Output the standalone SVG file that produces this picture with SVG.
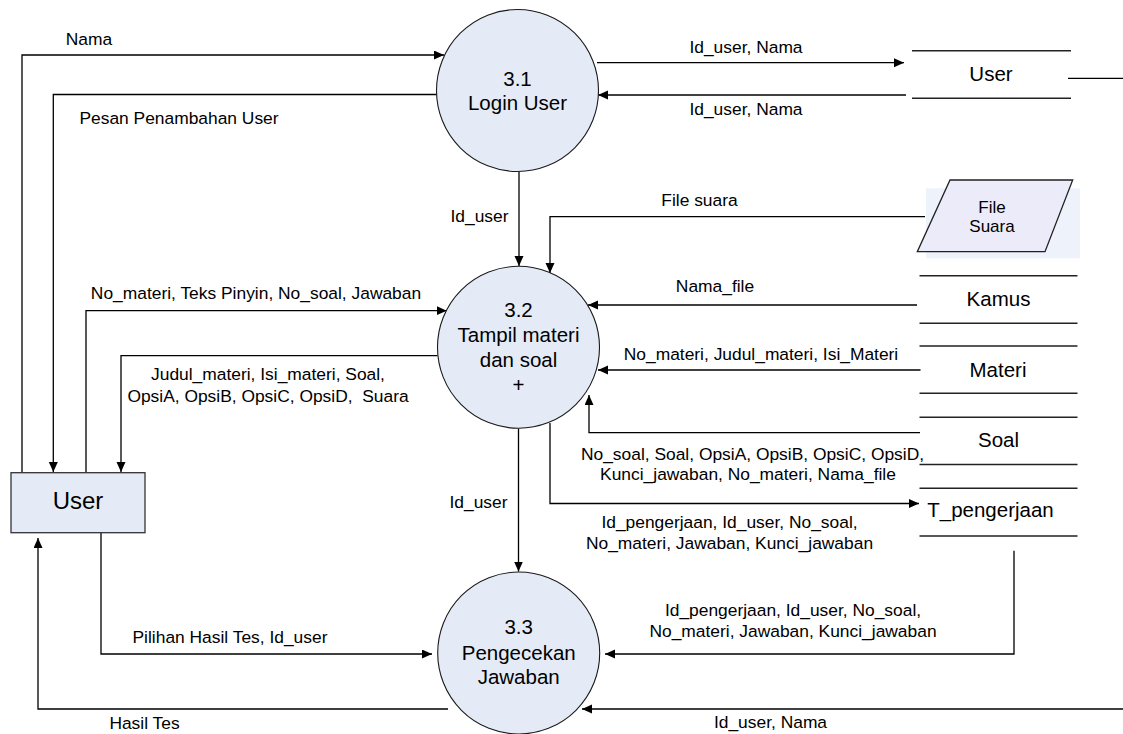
<svg xmlns="http://www.w3.org/2000/svg" width="1123" height="734" viewBox="0 0 1123 734">
<style>
  text { font-family: "Liberation Sans", Arial, sans-serif; fill: #000; }
  .lbl { font-size: 17.4px; text-anchor: middle; white-space: pre; }
  .proc { fill: #E5EBF6; stroke: #1a1a1a; stroke-width: 1.1; }
  .ptxt { font-size: 20.5px; text-anchor: middle; }
  .store { stroke: #222; stroke-width: 1.5; fill: none; }
  .stxt { font-size: 20.5px; text-anchor: middle; }
  .flow { fill: none; stroke: #000; stroke-width: 1.3; marker-end: url(#arr); }
  .plain { fill: none; stroke: #000; stroke-width: 1.3; }
</style>
<defs>
  <marker id="arr" markerUnits="userSpaceOnUse" markerWidth="11" markerHeight="10" refX="10" refY="4.5" orient="auto">
    <path d="M0,0 L10,4.5 L0,9 z" fill="#000"/>
  </marker>
</defs>

<g id="connectors">
  <path class="flow" d="M22,472.7 V55 H444"/>
  <path class="flow" d="M437,94.5 H53.3 V472"/>
  <path class="flow" d="M597,62.7 H904"/>
  <path class="flow" d="M906,95 H598"/>
  <path class="plain" d="M1068,78.3 H1123"/>
  <path class="flow" d="M519,172 V266"/>
  <path class="flow" d="M925,216.7 H550 V273"/>
  <path class="flow" d="M917,305 H588"/>
  <path class="flow" d="M920.5,370 H598"/>
  <path class="flow" d="M920,432.7 H589 V395"/>
  <path class="flow" d="M550,423 V503.5 H919"/>
  <path class="flow" d="M86,472.7 V310.7 H446.7"/>
  <path class="flow" d="M437.5,355.7 H121 V472"/>
  <path class="flow" d="M518.5,428.5 V571.5"/>
  <path class="flow" d="M101,532.7 V654 H432"/>
  <path class="flow" d="M448,709 H38 V538"/>
  <path class="flow" d="M1014,550.7 V654 H605"/>
  <path class="flow" d="M1123,709 H582"/>

  <text class="lbl" x="89" y="45">Nama</text>
  <text class="lbl" x="179" y="124">Pesan Penambahan User</text>
  <text class="lbl" x="746" y="53">Id_user, Nama</text>
  <text class="lbl" x="746" y="115">Id_user, Nama</text>
  <text class="lbl" x="699.5" y="206">File suara</text>
  <text class="lbl" x="479.5" y="222">Id_user</text>
  <text class="lbl" x="715" y="292">Nama_file</text>
  <text class="lbl" x="761" y="360">No_materi, Judul_materi, Isi_Materi</text>
  <text class="lbl" x="752.5" y="460">No_soal, Soal, OpsiA, OpsiB, OpsiC, OpsiD,</text>
  <text class="lbl" x="748" y="480">Kunci_jawaban, No_materi, Nama_file</text>
  <text class="lbl" x="729.5" y="528">Id_pengerjaan, Id_user, No_soal,</text>
  <text class="lbl" x="729.5" y="549">No_materi, Jawaban, Kunci_jawaban</text>
  <text class="lbl" x="478.5" y="508">Id_user</text>
  <text class="lbl" x="793" y="616">Id_pengerjaan, Id_user, No_soal,</text>
  <text class="lbl" x="793" y="637">No_materi, Jawaban, Kunci_jawaban</text>
  <text class="lbl" x="230" y="643">Pilihan Hasil Tes, Id_user</text>
  <text class="lbl" x="144.5" y="729">Hasil Tes</text>
  <text class="lbl" x="770.5" y="728">Id_user, Nama</text>
  <text class="lbl" x="256" y="299">No_materi, Teks Pinyin, No_soal, Jawaban</text>
  <text class="lbl" x="268" y="380">Judul_materi, Isi_materi, Soal,</text>
  <text class="lbl" x="268" y="402">OpsiA, OpsiB, OpsiC, OpsiD,  Suara</text>
</g>

<g id="p31">
  <circle class="proc" cx="517.5" cy="90.5" r="81"/>
  <text class="ptxt" x="517.5" y="86">3.1</text>
  <text class="ptxt" x="517.5" y="110">Login User</text>
</g>

<g id="p32">
  <circle class="proc" cx="518.5" cy="347.3" r="81"/>
  <text class="ptxt" x="518.5" y="317">3.2</text>
  <text class="ptxt" x="518.5" y="342">Tampil materi</text>
  <text class="ptxt" x="518.5" y="367">dan soal</text>
  <text class="ptxt" x="518.5" y="392">+</text>
</g>

<g id="p33">
  <circle class="proc" cx="518.7" cy="653" r="81"/>
  <text class="ptxt" x="518.7" y="634">3.3</text>
  <text class="ptxt" x="518.7" y="660">Pengecekan</text>
  <text class="ptxt" x="518.7" y="684">Jawaban</text>
</g>

<g id="entity-user">
  <rect x="11" y="472.7" width="134" height="60" fill="#E5EBF6" stroke="#333" stroke-width="1.3"/>
  <text x="78" y="509.3" font-size="24" text-anchor="middle">User</text>
</g>

<g id="store-user">
  <path class="store" d="M912,50.7 H1071 M912,98.3 H1071"/>
  <text class="stxt" x="991" y="81">User</text>
</g>

<g id="file-suara">
  <rect x="926" y="188.3" width="154" height="70" fill="#EEF2FA"/>
  <polygon points="950,180 1072.7,180 1045,251.7 917.3,251.7" fill="#EBEBFA" stroke="#222" stroke-width="1.3"/>
  <text x="992" y="212.7" font-size="17" text-anchor="middle">File</text>
  <text x="992" y="232.3" font-size="17" text-anchor="middle">Suara</text>
</g>

<g id="store-kamus">
  <path class="store" d="M919.5,275.7 H1077.5 M919.5,323.3 H1077.5"/>
  <text class="stxt" x="998.5" y="306">Kamus</text>
</g>

<g id="store-materi">
  <path class="store" d="M919.5,346 H1077.5 M919.5,393.3 H1077.5"/>
  <text class="stxt" x="998" y="376.7">Materi</text>
</g>

<g id="store-soal">
  <path class="store" d="M919.5,417.3 H1077.5 M919.5,464.5 H1077.5"/>
  <text class="stxt" x="998.5" y="446.7">Soal</text>
</g>

<g id="store-tpengerjaan">
  <path class="store" d="M919.5,488.3 H1077.5 M919.5,536 H1077.5"/>
  <text class="stxt" x="990.5" y="517.3">T_pengerjaan</text>
</g>
</svg>
